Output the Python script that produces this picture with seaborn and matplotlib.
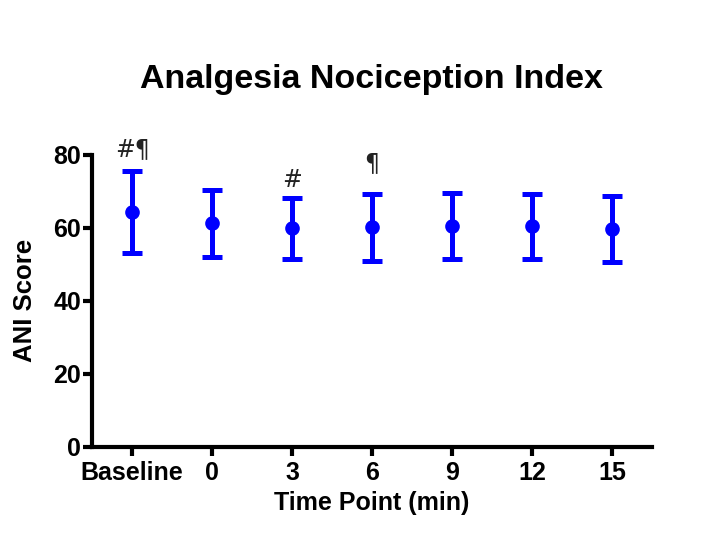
import numpy as np
import pandas as pd
import seaborn as sns
import matplotlib
matplotlib.use("Agg")
import matplotlib.pyplot as plt

# values
time_points = ["Baseline", "0", "3", "6", "9", "12", "15"]
ani_mean = [64.4, 61.2, 59.9, 60.1, 60.5, 60.5, 59.6]
ani_sd = [11.2, 9.1, 8.4, 9.1, 9.0, 8.9, 9.0]
marks = ["#¶", "", "#", "¶", "", "", ""]
mark_y = [81.5, 0, 73.0, 77.8, 0, 0, 0]

df = pd.DataFrame({"Time Point (min)": time_points, "ANI Score": ani_mean})

sns.set_style("ticks", {"axes.edgecolor": "black", "text.color": "black",
                        "xtick.color": "black", "ytick.color": "black",
                        "axes.labelcolor": "black"})
plt.rcParams["font.family"] = ["Liberation Sans", "DejaVu Sans"]
blue = "#0000ff"

fig = plt.figure(figsize=(7.08, 5.51), dpi=100)
ax = fig.add_axes([0.130, 0.189, 0.791, 0.530])

sns.pointplot(ax=ax, data=df, x="Time Point (min)", y="ANI Score",
              order=time_points, color=blue, linestyle="none",
              errorbar=None, markersize=8.5)
ax.errorbar(np.arange(len(time_points)), ani_mean, yerr=ani_sd,
            fmt="none", ecolor=blue, elinewidth=3.6, capsize=7,
            capthick=3.6, zorder=2)

for i, m in enumerate(marks):
    if m:
        ax.text(i, mark_y[i], m, ha="center", va="center", fontsize=17,
                color="#222222", clip_on=False, family=["DejaVu Sans"])

ax.set_ylim(0, 80)
ax.set_xlim(-0.5, 6.5)
ax.set_yticks([0, 20, 40, 60, 80])
ax.set_xlabel("Time Point (min)", fontsize=18, fontweight="bold", labelpad=4)
ax.set_ylabel("ANI Score", fontsize=18.5, fontweight="bold", labelpad=12)
ax.tick_params(axis="both", width=3, length=6.5, labelsize=18, pad=1.5)
ax.tick_params(axis="x", pad=4)
for lab in ax.get_xticklabels() + ax.get_yticklabels():
    lab.set_fontweight("bold")
for s in ["left", "bottom"]:
    ax.spines[s].set_linewidth(3)
sns.despine(ax=ax)

fig.text(0.525, 0.855, "Analgesia Nociception Index", ha="center", va="center",
         fontsize=24.5, fontweight="bold")

fig.savefig("out.png", dpi=100)
